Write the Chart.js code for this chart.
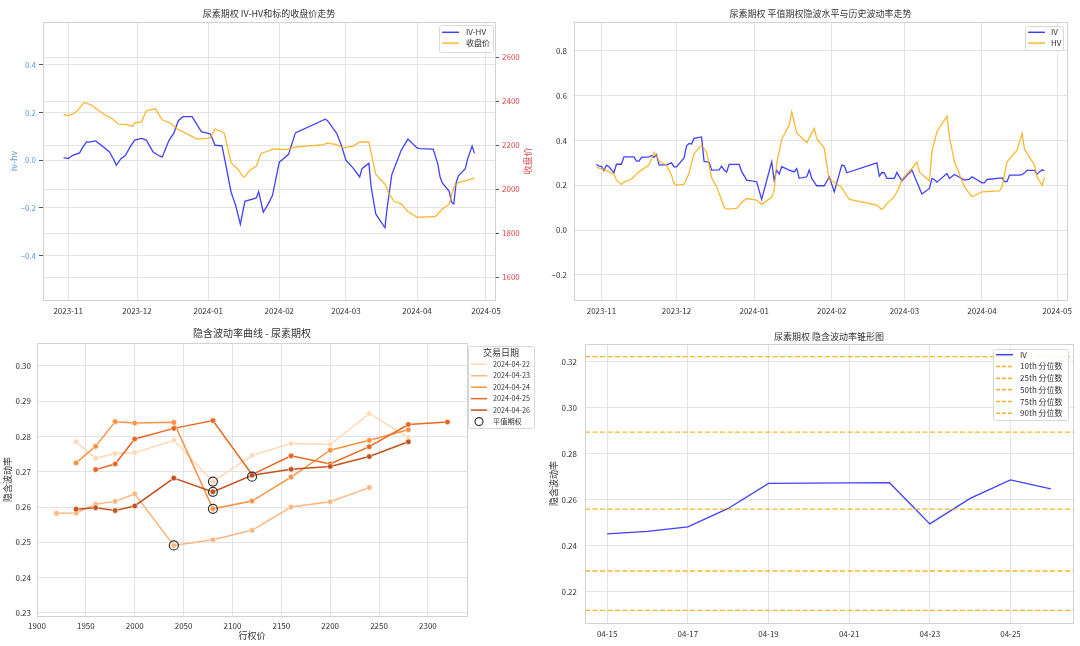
<!DOCTYPE html>
<html>
<head>
<meta charset="utf-8">
<script src="https://cdn.jsdelivr.net/npm/chart.js@4.4.1/dist/chart.umd.min.js"></script>
<style>
  html, body { margin: 0; padding: 0; background: #fff; }
  #wrap { position: relative; width: 1080px; height: 646px; overflow: hidden; }
  canvas { position: absolute; }
</style>
</head>
<body>
<div id="wrap">
  <canvas id="c1" width="540" height="323" style="left:0;top:0"></canvas>
  <canvas id="c2" width="540" height="323" style="left:540px;top:0"></canvas>
  <canvas id="c3" width="540" height="323" style="left:0;top:323px"></canvas>
  <canvas id="c4" width="540" height="323" style="left:540px;top:323px"></canvas>
</div>
<script>
// ---- panel 1: IV-HV and underlying close ----
const ivhvDates = ['2023-10-30','2023-11-01','2023-11-03','2023-11-06','2023-11-07','2023-11-09','2023-11-10','2023-11-13','2023-11-16','2023-11-19','2023-11-21','2023-11-22','2023-11-24','2023-11-26','2023-11-28','2023-11-30','2023-12-03','2023-12-05','2023-12-08','2023-12-11','2023-12-12','2023-12-15','2023-12-17','2023-12-19','2023-12-21','2023-12-25','2023-12-29','2024-01-01','2024-01-02','2024-01-04','2024-01-07','2024-01-08','2024-01-11','2024-01-13','2024-01-15','2024-01-17','2024-01-22','2024-01-23','2024-01-25','2024-01-27','2024-01-29','2024-02-01','2024-02-02','2024-02-05','2024-02-08','2024-02-21','2024-02-22','2024-02-26','2024-02-28','2024-03-01','2024-03-04','2024-03-07','2024-03-08','2024-03-11','2024-03-12','2024-03-14','2024-03-18','2024-03-19','2024-03-21','2024-03-25','2024-03-28','2024-04-01','2024-04-02','2024-04-08','2024-04-10','2024-04-11','2024-04-12','2024-04-15','2024-04-16','2024-04-17','2024-04-18','2024-04-19','2024-04-22','2024-04-23','2024-04-25','2024-04-26'];
const ivhvValues = [0.011,0.007,0.021,0.031,0.049,0.077,0.076,0.081,0.059,0.035,0.000,-0.021,0.007,0.021,0.056,0.085,0.092,0.085,0.035,0.017,0.014,0.085,0.113,0.166,0.183,0.183,0.120,0.113,0.110,0.063,0.061,0.014,-0.134,-0.190,-0.268,-0.172,-0.158,-0.131,-0.218,-0.186,-0.148,-0.007,0.000,0.025,0.115,0.172,0.166,0.113,0.063,0.000,-0.031,-0.070,-0.035,-0.012,-0.112,-0.225,-0.283,-0.197,-0.060,0.040,0.089,0.052,0.049,0.047,-0.014,-0.069,-0.095,-0.130,-0.176,-0.183,-0.095,-0.065,-0.035,0.005,0.060,0.029];

const closeDates = ['2023-10-30','2023-11-01','2023-11-03','2023-11-05','2023-11-08','2023-11-11','2023-11-14','2023-11-17','2023-11-20','2023-11-23','2023-11-27','2023-11-29','2023-11-30','2023-12-03','2023-12-05','2023-12-09','2023-12-12','2023-12-16','2023-12-19','2023-12-23','2023-12-27','2024-01-01','2024-01-02','2024-01-04','2024-01-08','2024-01-11','2024-01-14','2024-01-16','2024-01-17','2024-01-19','2024-01-22','2024-01-23','2024-01-24','2024-01-27','2024-01-29','2024-02-04','2024-02-08','2024-02-20','2024-02-22','2024-02-26','2024-02-29','2024-03-04','2024-03-07','2024-03-11','2024-03-12','2024-03-14','2024-03-18','2024-03-20','2024-03-22','2024-03-25','2024-03-28','2024-04-01','2024-04-09','2024-04-12','2024-04-15','2024-04-17','2024-04-19','2024-04-23','2024-04-26'];
const closeValues = [2339,2335,2342,2357,2395,2384,2361,2339,2323,2296,2293,2286,2302,2306,2357,2366,2316,2298,2271,2251,2228,2233,2236,2274,2256,2120,2090,2060,2056,2085,2105,2135,2163,2173,2183,2180,2192,2203,2210,2203,2188,2195,2215,2215,2165,2068,2023,1977,1944,1935,1899,1872,1876,1910,1932,2010,2030,2041,2052];

const monthTicks = ['2023-11','2023-12','2024-01','2024-02','2024-03','2024-04','2024-05'];
const ivhvTicks = [-0.4, -0.2, 0, 0.2, 0.4];
const closeTicks = [1600, 1800, 2000, 2200, 2400, 2600];

// ---- panel 2: ATM implied vol vs historical vol ----
const ivDates = ['2023-10-30','2023-10-31','2023-11-01','2023-11-02','2023-11-03','2023-11-04','2023-11-06','2023-11-07','2023-11-09','2023-11-10','2023-11-14','2023-11-15','2023-11-16','2023-11-17','2023-11-20','2023-11-21','2023-11-22','2023-11-23','2023-11-24','2023-11-27','2023-11-29','2023-11-30','2023-12-01','2023-12-04','2023-12-05','2023-12-06','2023-12-07','2023-12-08','2023-12-11','2023-12-12','2023-12-14','2023-12-15','2023-12-18','2023-12-19','2023-12-20','2023-12-21','2023-12-22','2023-12-26','2023-12-27','2023-12-29','2024-01-02','2024-01-04','2024-01-08','2024-01-09','2024-01-10','2024-01-11','2024-01-12','2024-01-15','2024-01-17','2024-01-18','2024-01-19','2024-01-22','2024-01-23','2024-01-24','2024-01-26','2024-01-29','2024-01-31','2024-02-02','2024-02-05','2024-02-06','2024-02-07','2024-02-19','2024-02-20','2024-02-21','2024-02-22','2024-02-23','2024-02-26','2024-02-27','2024-02-29','2024-03-04','2024-03-08','2024-03-11','2024-03-12','2024-03-13','2024-03-14','2024-03-18','2024-03-19','2024-03-21','2024-03-25','2024-03-27','2024-03-28','2024-04-01','2024-04-02','2024-04-03','2024-04-09','2024-04-10','2024-04-11','2024-04-12','2024-04-15','2024-04-16','2024-04-17','2024-04-18','2024-04-19','2024-04-22','2024-04-23','2024-04-24','2024-04-25','2024-04-26'];
const ivValues = [0.294,0.286,0.285,0.266,0.290,0.283,0.256,0.294,0.294,0.327,0.327,0.308,0.308,0.325,0.327,0.333,0.325,0.337,0.291,0.291,0.300,0.282,0.282,0.322,0.376,0.387,0.384,0.410,0.416,0.307,0.303,0.268,0.269,0.285,0.268,0.259,0.293,0.293,0.262,0.223,0.216,0.137,0.305,0.223,0.268,0.250,0.283,0.268,0.260,0.275,0.231,0.238,0.268,0.231,0.198,0.198,0.238,0.171,0.290,0.287,0.256,0.300,0.241,0.257,0.256,0.231,0.231,0.257,0.220,0.268,0.161,0.186,0.230,0.226,0.214,0.253,0.230,0.248,0.223,0.228,0.238,0.211,0.211,0.226,0.233,0.216,0.216,0.245,0.245,0.246,0.248,0.256,0.267,0.267,0.250,0.261,0.269,0.265];

const hvDates = ['2023-10-30','2023-11-02','2023-11-04','2023-11-06','2023-11-07','2023-11-09','2023-11-10','2023-11-13','2023-11-16','2023-11-20','2023-11-22','2023-11-23','2023-11-24','2023-11-27','2023-11-29','2023-11-30','2023-12-01','2023-12-04','2023-12-06','2023-12-08','2023-12-11','2023-12-13','2023-12-15','2023-12-17','2023-12-19','2023-12-20','2023-12-21','2023-12-25','2023-12-27','2023-12-29','2024-01-02','2024-01-04','2024-01-08','2024-01-09','2024-01-10','2024-01-12','2024-01-15','2024-01-16','2024-01-18','2024-01-22','2024-01-25','2024-01-26','2024-01-29','2024-01-31','2024-02-01','2024-02-05','2024-02-06','2024-02-08','2024-02-19','2024-02-21','2024-02-23','2024-02-26','2024-02-28','2024-02-29','2024-03-04','2024-03-06','2024-03-07','2024-03-11','2024-03-12','2024-03-14','2024-03-18','2024-03-19','2024-03-21','2024-03-25','2024-03-28','2024-04-01','2024-04-08','2024-04-09','2024-04-11','2024-04-15','2024-04-17','2024-04-18','2024-04-22','2024-04-23','2024-04-25','2024-04-26'];
const hvValues = [0.280,0.271,0.260,0.250,0.223,0.204,0.214,0.228,0.260,0.290,0.347,0.330,0.308,0.290,0.245,0.208,0.201,0.205,0.253,0.342,0.378,0.349,0.235,0.193,0.134,0.101,0.094,0.097,0.123,0.141,0.134,0.115,0.146,0.179,0.298,0.405,0.469,0.528,0.434,0.390,0.454,0.409,0.365,0.223,0.220,0.190,0.170,0.137,0.112,0.092,0.117,0.149,0.193,0.226,0.275,0.305,0.260,0.220,0.350,0.439,0.509,0.415,0.305,0.193,0.149,0.171,0.175,0.193,0.305,0.357,0.432,0.360,0.290,0.238,0.201,0.235];

const volTicks = [-0.2, 0, 0.2, 0.4, 0.6, 0.8];

// ---- panel 3: IV smile by trading date ----
const smileDates = ['2024-04-22','2024-04-23','2024-04-24','2024-04-25','2024-04-26'];
const strikes0422 = [1940,1960,1980,2000,2040,2080,2120,2160,2200,2240,2280];
const iv0422      = [0.2785,0.2738,0.2752,0.2754,0.2789,0.2672,0.2746,0.2780,0.2777,0.2865,0.2797];
const strikes0423 = [1920,1940,1960,1980,2000,2040,2080,2120,2160,2200,2240];
const iv0423      = [0.2582,0.2583,0.2608,0.2616,0.2637,0.2491,0.2507,0.2534,0.2600,0.2615,0.2655];
const strikes0424 = [1940,1960,1980,2000,2040,2080,2120,2160,2200,2240,2280];
const iv0424      = [0.2725,0.2772,0.2842,0.2838,0.2840,0.2595,0.2617,0.2685,0.2761,0.2789,0.2819];
const strikes0425 = [1960,1980,2000,2040,2080,2120,2160,2200,2240,2280,2320];
const iv0425      = [0.2706,0.2722,0.2793,0.2823,0.2845,0.2692,0.2745,0.2722,0.2771,0.2834,0.2841];
const strikes0426 = [1940,1960,1980,2000,2040,2080,2120,2160,2200,2240,2280];
const iv0426      = [0.2594,0.2598,0.2590,0.2603,0.2682,0.2643,0.2690,0.2707,0.2715,0.2743,0.2785];
const atmStrikes = [2080, 2040, 2080, 2120, 2080];
const atmIvs     = [0.2672, 0.2491, 0.2595, 0.2686, 0.2643];
const strikeTicks = [1900, 1950, 2000, 2050, 2100, 2150, 2200, 2250, 2300];
const smileTicks = [0.23, 0.24, 0.25, 0.26, 0.27, 0.28, 0.29, 0.30];

// ---- panel 4: IV cone ----
const coneDates = ['2024-04-15','2024-04-16','2024-04-17','2024-04-18','2024-04-19','2024-04-22','2024-04-23','2024-04-24','2024-04-25','2024-04-26'];
const coneIv    = [0.2451,0.2462,0.2482,0.2562,0.2671,0.2674,0.2495,0.2606,0.2686,0.2647];
const pctLabels = ['10th 分位数','25th 分位数','50th 分位数','75th 分位数','90th 分位数'];
const pctValues = [0.2119, 0.2290, 0.2559, 0.2894, 0.3222];
const coneTicks = ['04-15','04-17','04-19','04-21','04-23','04-25'];
const coneYTicks = [0.22, 0.24, 0.26, 0.28, 0.30, 0.32];

// ---------------------------------------------------------------
const FONT = '"Noto Sans CJK SC", "Noto Sans", sans-serif';
const GRID = '#e3e3e3';
const SPINE = '#d2d2d2';
const TXT = '#333333';
const BLUE = 'rgba(0,0,255,0.75)';
const ORANGE = 'rgba(255,165,0,0.8)';
const smileColors = ['#fdd9b6', '#fdb67e', '#fd9042', '#ec6620', '#c3521d'];

Chart.defaults.font.family = FONT;
Chart.defaults.font.size = 8;
Chart.defaults.color = TXT;

const DAY = 86400000;
const dayOf = (s, base) => Math.round((Date.parse(s) - Date.parse(base)) / DAY);
const pts = (xs, ys) => xs.map((x, i) => ({ x: x, y: ys[i] }));
const fmtDec = n => v => (v < 0 ? '\u2212' : '') + Math.abs(v).toFixed(n);

function fit(size, vertical) {
  return s => {
    if (vertical) s.width = size; else s.height = size;
    s.paddingLeft = s.paddingRight = s.paddingTop = s.paddingBottom = 0;
  };
}
function fixedTicks(vals) {
  return s => { s.ticks = vals.map(v => ({ value: v })); };
}
function padRange(vals, frac) {
  const lo = Math.min(...vals), hi = Math.max(...vals), m = (hi - lo) * frac;
  return [lo - m, hi + m];
}

function drawLegend(ctx, L) {
  ctx.save();
  ctx.fillStyle = 'rgba(255,255,255,0.85)';
  ctx.strokeStyle = '#d8d8d8';
  ctx.lineWidth = 1;
  ctx.beginPath();
  ctx.roundRect(L.x + 0.5, L.y + 0.5, L.w, L.h, 2);
  ctx.fill();
  ctx.stroke();
  ctx.textBaseline = 'middle';
  if (L.title) {
    ctx.font = '9px ' + FONT;
    ctx.fillStyle = TXT;
    ctx.textAlign = 'center';
    ctx.fillText(L.title, L.x + L.w / 2, L.titleY);
  }
  ctx.font = (L.size || 8) + 'px ' + FONT;
  L.items.forEach((it, i) => {
    const y = L.y0 + i * L.dy;
    if (it.marker) {
      ctx.beginPath();
      ctx.arc(L.lx + L.lw / 2, y, 4, 0, Math.PI * 2);
      ctx.strokeStyle = '#333';
      ctx.lineWidth = 1.2;
      ctx.stroke();
    } else {
      ctx.beginPath();
      ctx.setLineDash(it.dash || []);
      ctx.strokeStyle = it.color;
      ctx.lineWidth = it.width || 1.5;
      ctx.moveTo(L.lx, y);
      ctx.lineTo(L.lx + L.lw, y);
      ctx.stroke();
      ctx.setLineDash([]);
    }
    ctx.fillStyle = TXT;
    ctx.textAlign = 'left';
    ctx.fillText(it.label, L.tx, y);
  });
  ctx.restore();
}

// titles, axis labels, frame, legend, horizontal reference lines
const decor = {
  id: 'decor',
  afterDatasetsDraw(chart, args, o) {
    if (!o.hlines) return;
    const ctx = chart.ctx, a = chart.chartArea, ys = chart.scales.y;
    ctx.save();
    o.hlines.forEach(h => {
      const y = ys.getPixelForValue(h.value);
      ctx.beginPath();
      ctx.setLineDash(h.dash);
      ctx.strokeStyle = h.color;
      ctx.lineWidth = h.width;
      ctx.moveTo(a.left, y);
      ctx.lineTo(a.right, y);
      ctx.stroke();
    });
    ctx.restore();
  },
  afterDraw(chart, args, o) {
    const ctx = chart.ctx, a = chart.chartArea;
    ctx.save();
    ctx.strokeStyle = SPINE;
    ctx.lineWidth = 1;
    ctx.strokeRect(Math.round(a.left) + 0.5, Math.round(a.top) + 0.5,
                   Math.round(a.right - a.left), Math.round(a.bottom - a.top));
    ctx.textAlign = 'center';
    ctx.textBaseline = 'middle';
    ctx.fillStyle = TXT;
    ctx.font = (o.titleSize || 9) + 'px ' + FONT;
    ctx.fillText(o.title, (a.left + a.right) / 2, o.titleY);
    ctx.font = '9px ' + FONT;
    (o.yTitles || []).forEach(t => {
      ctx.save();
      ctx.translate(t.x, (a.top + a.bottom) / 2);
      ctx.rotate(-Math.PI / 2);
      ctx.fillStyle = t.color || TXT;
      ctx.fillText(t.text, 0, 0);
      ctx.restore();
    });
    if (o.xTitle) {
      ctx.fillStyle = TXT;
      ctx.fillText(o.xTitle.text, (a.left + a.right) / 2, o.xTitle.y);
    }
    ctx.restore();
    if (o.legend) drawLegend(ctx, o.legend);
  }
};

function baseOptions(padding, scales, decorOpts) {
  return {
    responsive: false,
    animation: false,
    devicePixelRatio: 1,
    layout: { padding: padding },
    elements: { line: { tension: 0 } },
    plugins: { legend: { display: false }, tooltip: { enabled: false }, decor: decorOpts },
    scales: scales
  };
}

// ---------------- panel 1 ----------------
const BASE1 = '2023-11-01';
const monthDays = monthTicks.map(m => dayOf(m + '-01', BASE1));
const topRange = padRange(ivhvDates.concat(closeDates).map(d => dayOf(d, BASE1)), 0.05);

new Chart(document.getElementById('c1'), {
  type: 'line',
  plugins: [decor],
  data: {
    datasets: [
      { label: '收盘价', data: pts(closeDates.map(d => dayOf(d, BASE1)), closeValues), yAxisID: 'y2',
        borderColor: ORANGE, borderWidth: 1.3, pointRadius: 0, order: 0 },
      { label: 'IV-HV', data: pts(ivhvDates.map(d => dayOf(d, BASE1)), ivhvValues), yAxisID: 'y',
        borderColor: BLUE, borderWidth: 1.3, pointRadius: 0, order: 1 }
    ]
  },
  options: baseOptions({ left: 0, top: 22, right: 0, bottom: 0 }, {
    x: { type: 'linear', min: topRange[0], max: topRange[1],
         afterBuildTicks: fixedTicks(monthDays), afterFit: fit(23, false),
         ticks: { autoSkip: false, maxRotation: 0, padding: 6, callback: (v, i) => monthTicks[i] },
         grid: { color: GRID, drawTicks: false }, border: { display: false } },
    y: { position: 'left', min: -0.586, max: 0.58,
         afterBuildTicks: fixedTicks(ivhvTicks), afterFit: fit(43, true),
         ticks: { color: '#5d9bd3', padding: 3, callback: fmtDec(1) },
         grid: { color: GRID, tickColor: '#555', tickLength: 4 }, border: { display: false } },
    y2: { position: 'right', min: 1496, max: 2761,
         afterBuildTicks: fixedTicks(closeTicks), afterFit: fit(45, true),
         ticks: { color: '#e0474c', padding: 3, callback: v => String(v) },
         grid: { color: GRID, tickColor: '#555', tickLength: 4 }, border: { display: false } }
  }, {
    title: '尿素期权 IV-HV和标的收盘价走势', titleY: 14,
    yTitles: [{ text: 'iv-hv', x: 14, color: '#5d9bd3' }, { text: '收盘价', x: 528, color: '#e0474c' }],
    legend: { x: 439, y: 25, w: 54, h: 27, y0: 32.3, dy: 10.8, lx: 442, lw: 17, tx: 466,
              items: [{ label: 'IV-HV', color: BLUE }, { label: '收盘价', color: ORANGE }] }
  })
});

// ---------------- panel 2 ----------------
new Chart(document.getElementById('c2'), {
  type: 'line',
  plugins: [decor],
  data: {
    datasets: [
      { label: 'HV', data: pts(hvDates.map(d => dayOf(d, BASE1)), hvValues),
        borderColor: ORANGE, borderWidth: 1.3, pointRadius: 0, order: 0 },
      { label: 'IV', data: pts(ivDates.map(d => dayOf(d, BASE1)), ivValues),
        borderColor: BLUE, borderWidth: 1.3, pointRadius: 0, order: 1 }
    ]
  },
  options: baseOptions({ left: 0, top: 22, right: 13, bottom: 0 }, {
    x: { type: 'linear', min: topRange[0], max: topRange[1],
         afterBuildTicks: fixedTicks(monthDays), afterFit: fit(23, false),
         ticks: { autoSkip: false, maxRotation: 0, padding: 6, callback: (v, i) => monthTicks[i] },
         grid: { color: GRID, drawTicks: false }, border: { display: false } },
    y: { min: -0.312, max: 0.929,
         afterBuildTicks: fixedTicks(volTicks), afterFit: fit(34, true),
         ticks: { padding: 7, callback: fmtDec(1) },
         grid: { color: GRID, drawTicks: false }, border: { display: false } }
  }, {
    title: '尿素期权 平值期权隐波水平与历史波动率走势', titleY: 14,
    legend: { x: 485, y: 26, w: 38, h: 24, y0: 32.3, dy: 10.8, lx: 488, lw: 17, tx: 511,
              items: [{ label: 'IV', color: BLUE }, { label: 'HV', color: ORANGE }] }
  })
});

// ---------------- panel 3 ----------------
const smileStrikes = [strikes0422, strikes0423, strikes0424, strikes0425, strikes0426];
const smileIvs = [iv0422, iv0423, iv0424, iv0425, iv0426];
const allStrikes = [].concat(...smileStrikes);
const allIvs = [].concat(...smileIvs);
const strikeRange = padRange(allStrikes, 0.05);

const smileSets = smileDates.map((d, i) => ({
  label: d, data: pts(smileStrikes[i], smileIvs[i]),
  borderColor: smileColors[i], borderWidth: 1.5,
  pointRadius: 2.8, pointBackgroundColor: smileColors[i],
  pointBorderColor: '#ffffff', pointBorderWidth: 0.6,
  order: 5 - i
}));
smileSets.push({
  label: '平值期权', data: pts(atmStrikes, atmIvs), showLine: false,
  pointRadius: 4.5, pointBackgroundColor: 'rgba(0,0,0,0)',
  pointBorderColor: '#333333', pointBorderWidth: 1.2, order: 0
});

new Chart(document.getElementById('c3'), {
  type: 'line',
  plugins: [decor],
  data: { datasets: smileSets },
  options: baseOptions({ left: 0, top: 20, right: 73, bottom: 0 }, {
    x: { type: 'linear', min: strikeRange[0], max: strikeRange[1],
         afterBuildTicks: fixedTicks(strikeTicks), afterFit: fit(30, false),
         ticks: { autoSkip: false, maxRotation: 0, padding: 5, callback: v => String(v) },
         grid: { color: GRID, drawTicks: false }, border: { display: false } },
    y: { min: Math.min(...allIvs) - 0.02, max: Math.max(...allIvs) + 0.02,
         afterBuildTicks: fixedTicks(smileTicks), afterFit: fit(37, true),
         ticks: { padding: 6, callback: fmtDec(2) },
         grid: { color: GRID, drawTicks: false }, border: { display: false } }
  }, {
    title: '隐含波动率曲线 - 尿素期权', titleY: 10.5, titleSize: 10,
    yTitles: [{ text: '隐含波动率', x: 8 }],
    xTitle: { text: '行权价', y: 313 },
    legend: { x: 468, y: 23, w: 66, h: 82, title: '交易日期', titleY: 29.5,
              y0: 41.3, dy: 11.45, lx: 471, lw: 16, tx: 493, size: 7.2,
              items: smileDates.map((d, i) => ({ label: d, color: smileColors[i] }))
                .concat([{ label: '平值期权', marker: true }]) }
  })
});

// ---------------- panel 4 ----------------
const BASE4 = '2024-04-15';
const coneDays = coneDates.map(d => dayOf(d, BASE4));
const coneTickDays = coneTicks.map(t => dayOf('2024-' + t, BASE4));
const coneX = padRange(coneDays, 0.05);
const coneY = padRange(coneIv.concat(pctValues), 0.05);
const PCT = 'rgba(255,165,0,0.85)';

new Chart(document.getElementById('c4'), {
  type: 'line',
  plugins: [decor],
  data: {
    datasets: [
      { label: 'IV', data: pts(coneDays, coneIv), borderColor: BLUE, borderWidth: 1.3, pointRadius: 0 }
    ]
  },
  options: baseOptions({ left: 0, top: 21, right: 7, bottom: 0 }, {
    x: { type: 'linear', min: coneX[0], max: coneX[1],
         afterBuildTicks: fixedTicks(coneTickDays), afterFit: fit(23, false),
         ticks: { autoSkip: false, maxRotation: 0, padding: 6, callback: (v, i) => coneTicks[i] },
         grid: { color: GRID, drawTicks: false }, border: { display: false } },
    y: { min: coneY[0], max: coneY[1],
         afterBuildTicks: fixedTicks(coneYTicks), afterFit: fit(45, true),
         ticks: { padding: 8, callback: fmtDec(2) },
         grid: { color: GRID, drawTicks: false }, border: { display: false } }
  }, {
    title: '尿素期权 隐含波动率锥形图', titleY: 13.7,
    yTitles: [{ text: '隐含波动率', x: 14 }],
    hlines: pctValues.map(v => ({ value: v, color: PCT, width: 1.3, dash: [5, 2.5] })),
    legend: { x: 453, y: 26, w: 75, h: 71, y0: 31.7, dy: 11.72, lx: 456, lw: 17, tx: 480,
              items: [{ label: 'IV', color: BLUE }]
                .concat(pctLabels.map(l => ({ label: l, color: PCT, dash: [4, 2] }))) }
  })
});
</script>
</body>
</html>
